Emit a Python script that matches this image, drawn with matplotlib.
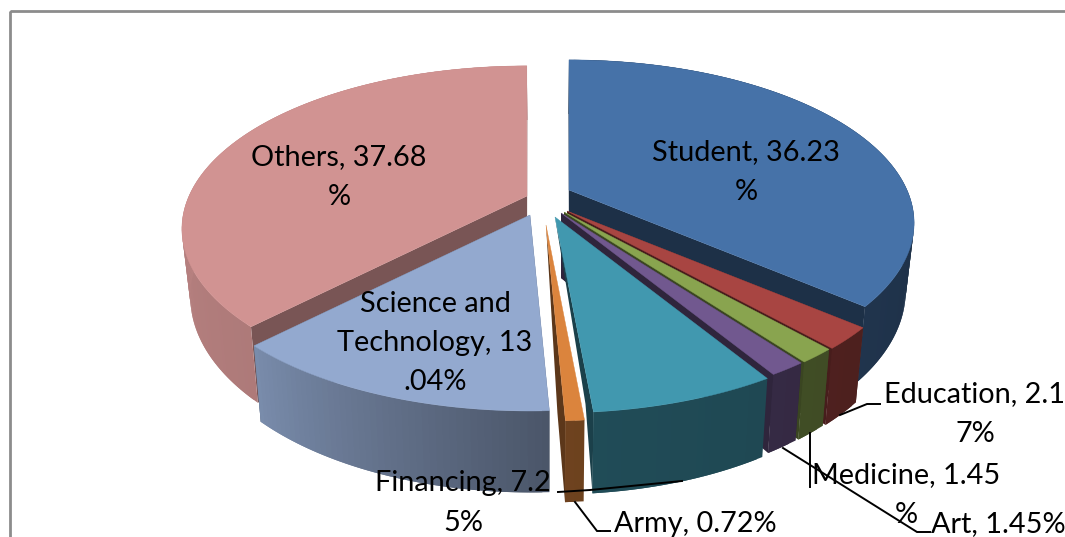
import matplotlib
matplotlib.use("Agg")
import matplotlib.pyplot as plt
from matplotlib.patches import Polygon, Rectangle
import numpy as np

plt.rcParams['font.family'] = ['Lato', 'DejaVu Sans']

# data
categories = ['Student', 'Education', 'Medicine', 'Art', 'Financing', 'Army',
              'Science and Technology', 'Others']
values = [36.23, 2.17, 1.45, 1.45, 7.25, 0.72, 13.04, 37.68]
labels = ['Student, 36.23\n%', 'Education, 2.1\n7%', 'Medicine, 1.45\n%', 'Art, 1.45%',
          'Financing, 7.2\n5%', 'Army, 0.72%', 'Science and\nTechnology, 13\n.04%',
          'Others, 37.68\n%']

# styles / layout (pixels of the picture)
colors = ['#4672A8', '#A84542', '#89A44F', '#71588F', '#4198AF', '#DB843D', '#93A9CF', '#D19392']
apex = [(569, 190), (567, 211), (564, 212), (561, 213), (555, 217), (546, 225), (530, 215), (527, 196)]
label_pos = [(746, 172), (975, 414), (906, 495), (998, 524), (463, 503), (695, 524), (435, 343), (339, 177)]
draw_order = [0, 7, 1, 2, 3, 6, 4, 5]

R = 338
Ry = 156.4
k = 0.202
H = 65
cx = 548

fig = plt.figure(figsize=(10.65, 5.37), dpi=100)
ax = fig.add_axes([0, 0, 1, 1])
ax.set_xlim(0, 1065)
ax.set_ylim(537, 0)
ax.axis('off')

ax.add_patch(Rectangle((9.5, 11), 1200, 800, fc='none', ec='#8C8C8C', lw=2))


def top_pt(a, t):
    s = 1 / (1 + k * np.cos(t))
    return np.array([a[0] + R * np.sin(t) * s, a[1] - Ry * np.cos(t) * s])


def low_pt(a, t):
    s = 1 / (1 + k * np.cos(t))
    p = top_pt(a, t)
    return np.array([cx + (p[0] - cx) * 0.977, p[1] + H * s])


def shade(c, f):
    return tuple(np.array(matplotlib.colors.to_rgb(c)) * f)


edges = np.cumsum([0] + values) / 100 * 2 * np.pi

for i in draw_order:
    a, c = apex[i], colors[i]
    t0, t1 = edges[i], edges[i + 1]
    ts = np.linspace(t0, t1, max(3, int((t1 - t0) * 60)))

    # radial faces
    narrow_left = categories[i] in ('Financing', 'Army')
    for t in (t0, t1):
        if narrow_left and t == t0:
            continue
        o_top, o_low = top_pt(a, t), low_pt(a, t)
        if narrow_left:
            inner = o_top + np.array([-8, -8])
        else:
            inner = np.array([a[0], a[1] + H])
        f = 0.58 if categories[i] == 'Others' else 0.42
        ax.add_patch(Polygon([a, o_top, o_low, inner], fc=shade(c, f), ec='none'))

    # outer wall, strips overlap by one step so no seams show
    for j in range(len(ts) - 1):
        t_a, t_b = ts[j], ts[min(j + 2, len(ts) - 1)]
        deg = np.degrees(ts[j])
        f = np.interp(deg, [90, 176, 224, 270], [0.42, 0.5, 0.83, 0.88])
        ax.add_patch(Polygon([top_pt(a, t_a), top_pt(a, t_b), low_pt(a, t_b), low_pt(a, t_a)],
                             fc=shade(c, f), ec='none'))

    # top face
    ax.add_patch(Polygon([a] + [top_pt(a, t) for t in ts], fc=c, ec=c, lw=0.3))

# leader lines
leaders = [[(840, 415), (867, 404), (880, 404)],
           [(810, 433), (810, 487)],
           [(783, 448), (917, 532), (930, 532)],
           [(682, 481), (590, 490), (558, 492)],
           [(575, 502), (597, 531), (610, 531)]]
for line in leaders:
    xs, ys = zip(*line)
    ax.plot(xs, ys, color='black', lw=1.4, solid_joinstyle='miter')

for lab, (x, y) in zip(labels, label_pos):
    ax.text(x, y, lab, ha='center', va='center', fontsize=20.8, color='black',
            linespacing=1.62, clip_on=True)

fig.savefig('out.png', dpi=100)
